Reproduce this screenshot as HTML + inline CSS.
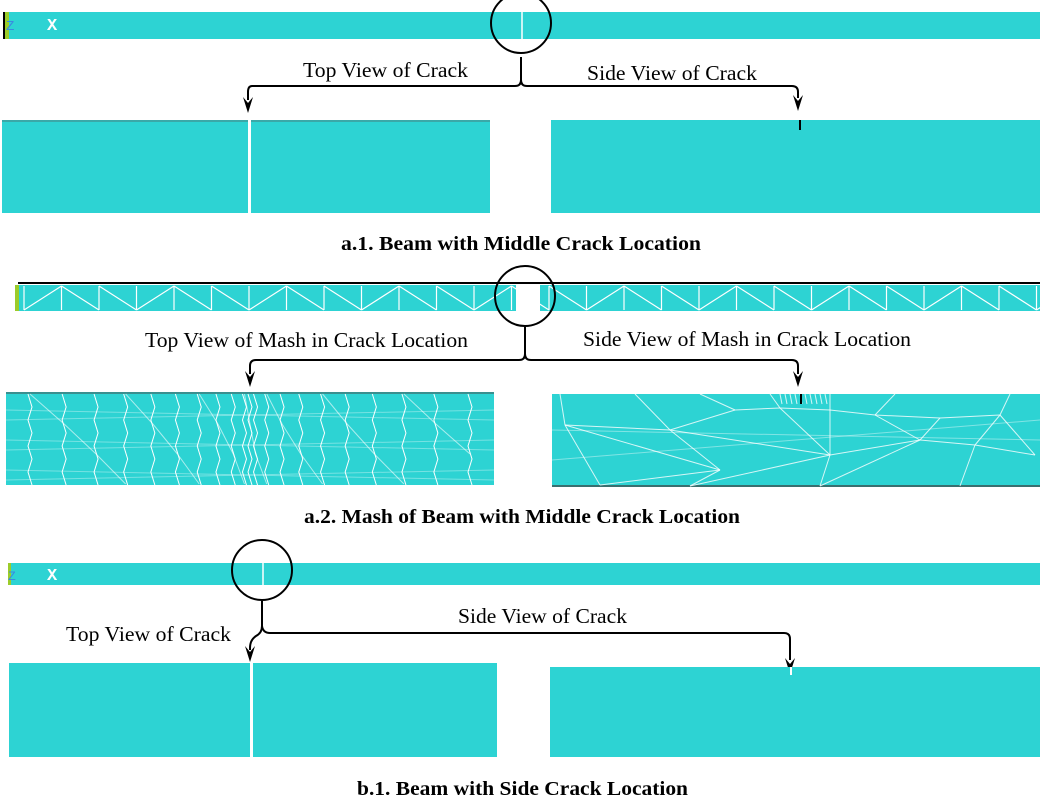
<!DOCTYPE html>
<html><head><meta charset="utf-8"><style>
html,body{margin:0;padding:0;background:#fff;}
svg{display:block;}
text{font-family:"Liberation Serif",serif;fill:#000;}
</style></head><body>
<svg id="s" width="1057" height="803" viewBox="0 0 1057 803" xmlns="http://www.w3.org/2000/svg">
<!-- a.1 -->
<rect x="3" y="12" width="1037" height="27" fill="#2dd3d3"/>
<rect x="3" y="12" width="2" height="27" fill="#000"/>
<rect x="5" y="12" width="4" height="27" fill="#9ccc2a"/>
<text x="6" y="30" font-size="14" style="fill:#3a8ae0;font-family:'Liberation Mono',monospace">Z</text>
<text x="47" y="30" font-size="17" font-weight="bold" style="fill:#fff;font-family:'Liberation Mono',monospace">X</text>
<line x1="522" y1="12" x2="522" y2="39" stroke="#fff" stroke-width="1.5"/>
<circle cx="521" cy="23" r="30" fill="none" stroke="#000" stroke-width="2"/>
<path d="M521,57 L521,80 Q521,86 515,86 L252,86 Q248,86 248,92 L248,100" fill="none" stroke="#000" stroke-width="2"/>
<path d="M521,80 Q521,86 527,86 L792,86 Q798,86 798,92 L798,98" fill="none" stroke="#000" stroke-width="2"/>
<path d="M243,97 L248,113 L253,97 L248,103 Z"/>
<path d="M793,95 L798,111 L803,95 L798,101 Z"/>
<text x="303" y="77" font-size="21" textLength="165" lengthAdjust="spacingAndGlyphs">Top View of Crack</text>
<text x="587" y="80" font-size="21" textLength="170" lengthAdjust="spacingAndGlyphs">Side View of Crack</text>
<rect x="2" y="120" width="488" height="93" fill="#2dd3d3"/>
<rect x="2" y="120" width="488" height="2" fill="#3aa8a8"/>
<rect x="248" y="120" width="3" height="93" fill="#fff"/>
<rect x="551" y="120" width="489" height="93" fill="#2dd3d3"/>
<rect x="799" y="120" width="2" height="10" fill="#000"/>
<text x="341" y="250" font-size="20" font-weight="bold" textLength="360" lengthAdjust="spacingAndGlyphs">a.1. Beam with Middle Crack Location</text>
<!-- a.2 -->
<line x1="18" y1="283" x2="1040" y2="283" stroke="#000" stroke-width="2"/>
<rect x="18" y="285" width="1022" height="26" fill="#2dd3d3"/>
<rect x="15" y="285" width="4" height="26" fill="#9ccc2a"/>
<g id="beammesh" stroke="#fff" stroke-width="1.2"></g>
<rect x="516" y="285" width="24" height="26" fill="#fff"/>
<circle cx="525" cy="296" r="30" fill="none" stroke="#000" stroke-width="2"/>
<path d="M525,327 L525,354 Q525,360 519,360 L256,360 Q250,360 250,366 L250,374" fill="none" stroke="#000" stroke-width="2"/>
<path d="M525,354 Q525,360 531,360 L792,360 Q798,360 798,366 L798,374" fill="none" stroke="#000" stroke-width="2"/>
<path d="M245,371 L250,387 L255,371 L250,377 Z"/>
<path d="M793,371 L798,387 L803,371 L798,377 Z"/>
<text x="145" y="347" font-size="21" textLength="323" lengthAdjust="spacingAndGlyphs">Top View of Mash in Crack Location</text>
<text x="583" y="346" font-size="21" textLength="328" lengthAdjust="spacingAndGlyphs">Side View of Mash in Crack Location</text>
<rect x="6" y="393" width="488" height="92" fill="#2dd3d3"/>
<rect x="6" y="392" width="488" height="2" fill="#3a8f8f"/>
<g id="m1" stroke="#fff" stroke-width="1" fill="none"></g>
<rect x="552" y="394" width="488" height="92" fill="#2dd3d3"/>
<rect x="552" y="485" width="488" height="2" fill="#3a6f6f"/>
<g id="m2" stroke="#fff" stroke-width="1" fill="none"></g>
<rect x="800" y="394" width="2" height="10" fill="#000"/>
<text x="304" y="523" font-size="20" font-weight="bold" textLength="436" lengthAdjust="spacingAndGlyphs">a.2. Mash of Beam with Middle Crack Location</text>
<!-- b.1 -->
<rect x="8" y="563" width="1032" height="22" fill="#2dd3d3"/>
<rect x="8" y="563" width="3" height="22" fill="#9ccc2a"/>
<text x="8" y="580" font-size="13" style="fill:#3a8ae0;font-family:'Liberation Mono',monospace">Z</text>
<text x="47" y="580" font-size="17" font-weight="bold" style="fill:#fff;font-family:'Liberation Mono',monospace">X</text>
<line x1="263" y1="563" x2="263" y2="585" stroke="#fff" stroke-width="1.5"/>
<circle cx="262" cy="570" r="30" fill="none" stroke="#000" stroke-width="2"/>
<path d="M262,601 L262,626 Q262,633 256,636 Q250,640 250,648 L250,650" fill="none" stroke="#000" stroke-width="2"/>
<path d="M262,626 Q263,633 270,633 L784,633 Q790,633 790,639 L790,660" fill="none" stroke="#000" stroke-width="2"/>
<path d="M245,646 L250,662 L255,646 L250,652 Z"/>
<path d="M785,658 L790,674 L795,658 L790,664 Z"/>
<text x="66" y="641" font-size="21" textLength="165" lengthAdjust="spacingAndGlyphs">Top View of Crack</text>
<text x="458" y="623" font-size="21" textLength="169" lengthAdjust="spacingAndGlyphs">Side View of Crack</text>
<rect x="9" y="663" width="488" height="94" fill="#2dd3d3"/>
<rect x="250" y="663" width="3" height="94" fill="#fff"/>
<rect x="550" y="667" width="490" height="90" fill="#2dd3d3"/>
<rect x="790" y="667" width="2" height="8" fill="#fff"/>
<text x="357" y="795" font-size="20" font-weight="bold" textLength="331" lengthAdjust="spacingAndGlyphs">b.1. Beam with Side Crack Location</text>
</svg>
<script>
var NS="http://www.w3.org/2000/svg";
function ln(g,x1,y1,x2,y2,o){var l=document.createElementNS(NS,"line");l.setAttribute("x1",x1);l.setAttribute("y1",y1);l.setAttribute("x2",x2);l.setAttribute("y2",y2);if(o)l.setAttribute("stroke-opacity",o);g.appendChild(l);}
var b=document.getElementById("beammesh");
for(var x=24;x<1040;x+=37.5){ln(b,x,286,x,310);var d=(Math.floor((x-24)/37.5)%3==0);ln(b,x,d?310:286,x+37.5,d?286:310);}
var g=document.getElementById("m1");
var xs=[];for(var i=-10;i<=10;i++){var s=Math.sign(i)*Math.pow(Math.abs(i)/10,1.6)*220;xs.push(250+s);}
xs.forEach(function(x,k){var pts=[];for(var y=394;y<=485;y+=13){pts.push((x+((y/13|0)%2?2:-2))+","+y);}var p=document.createElementNS(NS,"polyline");p.setAttribute("points",pts.join(" "));g.appendChild(p);});
for(var y=410;y<485;y+=30){ln(g,6,y,494,y+10,0.35);ln(g,6,y+10,494,y,0.35);}
for(var k=0;k<xs.length-1;k++){ln(g,xs[k],394+(k%3)*30,xs[k+1],424+(k%3)*30,0.6);}
var h=document.getElementById("m2");
var P=[[560,394],[635,394],[700,394],[770,394],[830,394],[895,394],[1010,394],[565,425],[670,430],[735,410],[780,408],[830,410],[875,415],[940,418],[1000,415],[720,470],[830,455],[920,440],[975,445],[1035,455],[600,485],[690,486],[820,486],[960,486]];
var E=[[0,7],[7,8],[8,9],[9,10],[10,11],[11,12],[12,13],[13,14],[14,19],[7,15],[15,8],[8,16],[16,11],[16,17],[17,13],[17,18],[18,14],[18,19],[15,20],[15,21],[16,21],[16,22],[17,22],[18,23],[1,8],[2,9],[3,10],[4,11],[5,12],[6,14],[7,20],[10,16],[12,17]];
E.forEach(function(e){ln(h,P[e[0]][0],P[e[0]][1],P[e[1]][0],P[e[1]][1],0.8);});
ln(h,552,430,1040,440,0.4);ln(h,552,460,1040,420,0.4);
for(var i=0;i<10;i++){ln(h,780+i*5,394,782+i*5,404,0.8);}
</script>
</body></html>
